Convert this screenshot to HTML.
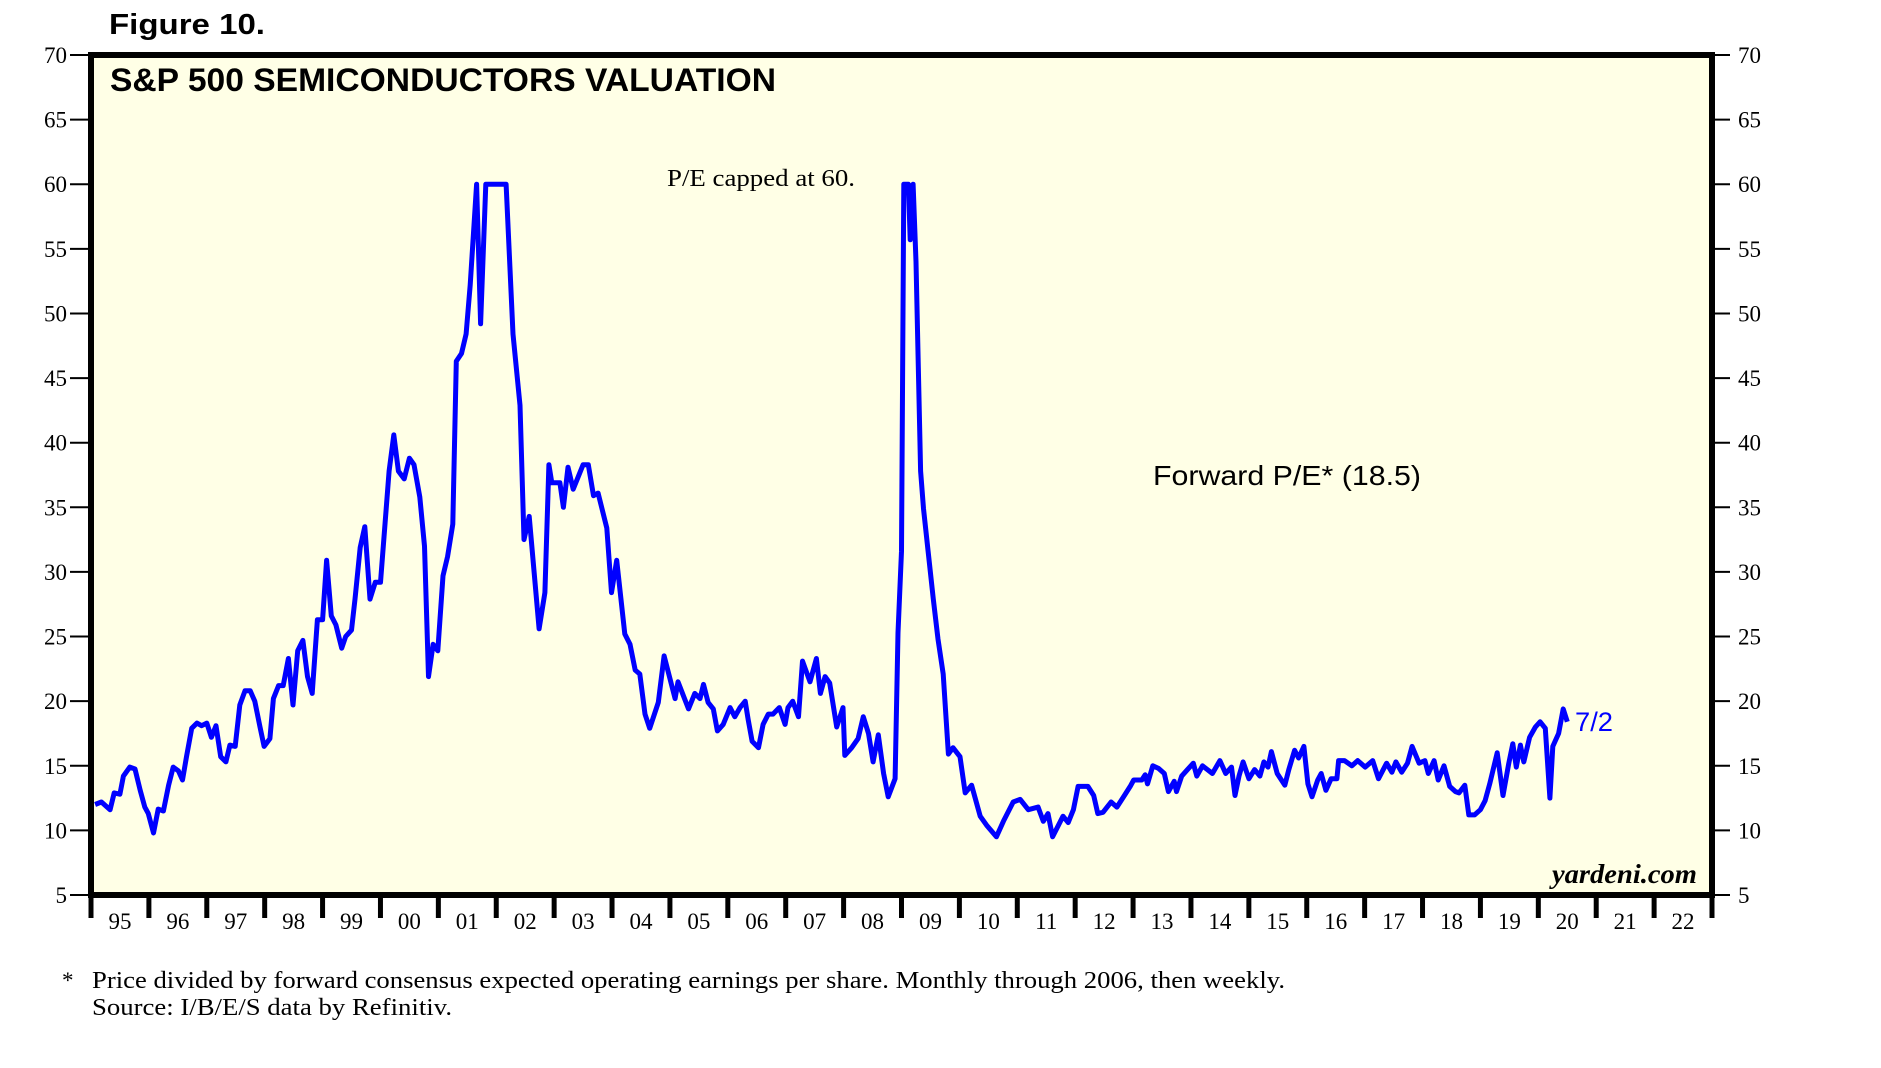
<!DOCTYPE html>
<html><head><meta charset="utf-8"><style>
html,body{margin:0;padding:0;background:#fff;}
svg{display:block;}
</style></head><body>
<svg id="chart" width="1881" height="1068" viewBox="0 0 1881 1068" xmlns="http://www.w3.org/2000/svg">
<text x="109" y="34" font-family="Liberation Sans, sans-serif" font-weight="bold" font-size="29" textLength="156" lengthAdjust="spacingAndGlyphs">Figure 10.</text>
<rect x="91" y="55" width="1621" height="840" fill="#FFFFE6" stroke="#000" stroke-width="6"/>
<g id="yaxes"></g>
<g id="xaxis"></g>
<g id="series"></g>
<rect x="91" y="55" width="1621" height="840" fill="none" stroke="#000" stroke-width="6"/>
<text x="110" y="91" font-family="Liberation Sans, sans-serif" font-weight="bold" font-size="32" textLength="666" lengthAdjust="spacingAndGlyphs">S&amp;P 500 SEMICONDUCTORS VALUATION</text>
<text x="667" y="186" font-family="Liberation Serif, serif" font-size="24" textLength="188" lengthAdjust="spacingAndGlyphs">P/E capped at 60.</text>
<text x="1153" y="485" font-family="Liberation Sans, sans-serif" font-size="28" textLength="268" lengthAdjust="spacingAndGlyphs">Forward P/E* (18.5)</text>
<text x="1575" y="731" font-family="Liberation Sans, sans-serif" font-size="27" fill="#0000FF" textLength="38" lengthAdjust="spacingAndGlyphs">7/2</text>
<text x="1552" y="883" font-family="Liberation Serif, serif" font-weight="bold" font-style="italic" font-size="27" textLength="145" lengthAdjust="spacingAndGlyphs">yardeni.com</text>
<text x="62" y="988" font-family="Liberation Serif, serif" font-size="23">*</text>
<text x="92" y="988" font-family="Liberation Serif, serif" font-size="24" textLength="1193" lengthAdjust="spacingAndGlyphs">Price divided by forward consensus expected operating earnings per share. Monthly through 2006, then weekly.</text>
<text x="92" y="1015" font-family="Liberation Serif, serif" font-size="24" textLength="360" lengthAdjust="spacingAndGlyphs">Source: I/B/E/S data by Refinitiv.</text>
</svg>
<script>
const yearLabels = ["95","96","97","98","99","00","01","02","03","04","05","06","07","08","09","10","11","12","13","14","15","16","17","18","19","20","21","22"];
const yTicks = [5,10,15,20,25,30,35,40,45,50,55,60,65,70];
const dates = [1995.07,1995.18,1995.33,1995.40,1995.50,1995.56,1995.67,1995.76,1995.85,1995.93,1995.99,1996.08,1996.16,1996.25,1996.34,1996.42,1996.51,1996.58,1996.65,1996.74,1996.83,1996.91,1997.00,1997.08,1997.16,1997.24,1997.33,1997.40,1997.49,1997.57,1997.66,1997.75,1997.83,1997.92,1997.99,1998.09,1998.15,1998.24,1998.32,1998.41,1998.49,1998.57,1998.66,1998.74,1998.82,1998.91,1999.00,1999.07,1999.15,1999.23,1999.33,1999.40,1999.50,1999.56,1999.65,1999.73,1999.82,1999.91,2000.00,2000.08,2000.15,2000.23,2000.31,2000.41,2000.50,2000.58,2000.68,2000.76,2000.83,2000.91,2000.99,2001.08,2001.16,2001.25,2001.31,2001.40,2001.48,2001.55,2001.66,2001.73,2001.82,2002.17,2002.29,2002.41,2002.48,2002.57,2002.74,2002.84,2002.91,2002.96,2003.10,2003.16,2003.24,2003.33,2003.50,2003.59,2003.68,2003.76,2003.91,2003.99,2004.08,2004.22,2004.31,2004.40,2004.48,2004.57,2004.65,2004.80,2004.90,2005.09,2005.14,2005.32,2005.43,2005.52,2005.58,2005.66,2005.75,2005.82,2005.92,2006.04,2006.12,2006.21,2006.30,2006.35,2006.42,2006.53,2006.61,2006.70,2006.78,2006.89,2006.99,2007.04,2007.12,2007.22,2007.29,2007.42,2007.53,2007.60,2007.68,2007.76,2007.88,2007.99,2008.02,2008.14,2008.25,2008.34,2008.43,2008.51,2008.60,2008.69,2008.77,2008.89,2008.94,2009.00,2009.04,2009.12,2009.15,2009.20,2009.25,2009.33,2009.38,2009.46,2009.55,2009.63,2009.72,2009.81,2009.89,2010.01,2010.10,2010.21,2010.36,2010.47,2010.64,2010.76,2010.93,2011.05,2011.19,2011.36,2011.45,2011.53,2011.61,2011.79,2011.88,2011.97,2012.05,2012.22,2012.32,2012.39,2012.48,2012.62,2012.72,2012.85,2012.95,2013.01,2013.15,2013.21,2013.25,2013.34,2013.44,2013.54,2013.61,2013.71,2013.75,2013.84,2013.94,2014.04,2014.10,2014.20,2014.37,2014.50,2014.60,2014.70,2014.76,2014.83,2014.90,2015.00,2015.10,2015.19,2015.26,2015.33,2015.39,2015.49,2015.62,2015.69,2015.79,2015.86,2015.95,2016.02,2016.09,2016.19,2016.25,2016.33,2016.42,2016.52,2016.55,2016.65,2016.78,2016.88,2017.01,2017.14,2017.24,2017.38,2017.47,2017.54,2017.64,2017.74,2017.82,2017.94,2018.04,2018.10,2018.20,2018.27,2018.37,2018.47,2018.57,2018.63,2018.73,2018.80,2018.90,2019.00,2019.08,2019.16,2019.29,2019.39,2019.49,2019.56,2019.62,2019.69,2019.75,2019.85,2019.95,2020.03,2020.12,2020.20,2020.25,2020.35,2020.43,2020.50];
const values = [12.0,12.2,11.6,12.9,12.8,14.2,14.9,14.75,13.1,11.8,11.3,9.8,11.65,11.5,13.5,14.9,14.6,13.9,15.7,17.9,18.3,18.1,18.3,17.2,18.1,15.7,15.3,16.6,16.5,19.7,20.8,20.8,20.0,18.0,16.5,17.1,20.2,21.2,21.2,23.3,19.7,23.9,24.7,21.9,20.6,26.3,26.3,30.9,26.6,25.9,24.1,25.0,25.5,27.9,31.9,33.5,27.9,29.2,29.2,33.8,37.8,40.6,37.8,37.2,38.8,38.3,35.8,32.0,21.9,24.4,23.9,29.7,31.2,33.7,46.3,46.9,48.4,52.2,60.0,49.2,60.0,60.0,48.4,42.9,32.5,34.3,25.6,28.4,38.3,36.9,36.9,35.0,38.1,36.4,38.3,38.3,35.9,36.1,33.4,28.4,30.9,25.2,24.4,22.4,22.1,19.0,17.9,19.9,23.5,20.2,21.5,19.4,20.6,20.2,21.3,19.9,19.4,17.7,18.2,19.5,18.8,19.5,20.0,18.6,16.9,16.4,18.2,19.0,19.0,19.5,18.2,19.5,20.0,18.8,23.1,21.5,23.3,20.6,21.9,21.4,18.0,19.5,15.8,16.4,17.1,18.8,17.5,15.3,17.4,14.4,12.6,14.0,25.3,31.6,60.0,60.0,55.7,60.0,54.0,37.8,34.9,31.6,27.9,24.8,22.1,15.9,16.4,15.7,12.9,13.5,11.1,10.4,9.5,10.7,12.2,12.4,11.6,11.8,10.7,11.3,9.5,11.1,10.6,11.6,13.4,13.4,12.7,11.3,11.4,12.2,11.8,12.7,13.4,13.9,13.9,14.3,13.6,15.0,14.8,14.4,13.0,13.8,13.0,14.2,14.7,15.2,14.2,15.0,14.4,15.4,14.4,14.9,12.7,14.2,15.3,14.0,14.7,14.2,15.3,14.9,16.1,14.4,13.5,14.7,16.2,15.6,16.5,13.6,12.6,13.9,14.4,13.1,14.0,14.0,15.4,15.4,15.0,15.4,14.9,15.4,14.0,15.2,14.5,15.3,14.5,15.2,16.5,15.2,15.4,14.4,15.4,13.9,15.0,13.4,13.0,12.9,13.5,11.2,11.2,11.6,12.3,13.6,16.0,12.7,15.2,16.7,14.9,16.6,15.3,17.2,18.0,18.4,17.9,12.5,16.5,17.5,19.4,18.4];

const NS = "http://www.w3.org/2000/svg";
const X0 = 91, X1 = 1712, Y0 = 55, Y1 = 895;
const yMin = 5, yMax = 70, startYear = 1995, nYears = 28;
function xs(yr){ return X0 + (yr - startYear) * (X1 - X0) / nYears; }
function ys(v){ return Y1 - (v - yMin) * (Y1 - Y0) / (yMax - yMin); }
function mk(tag, attrs){ const e = document.createElementNS(NS, tag); for (const k in attrs) e.setAttribute(k, attrs[k]); return e; }

const yg = document.getElementById('yaxes');
yTicks.forEach(t => {
  const y = ys(t);
  const l1 = mk('line', {x1:70, x2:X0, y1:y, y2:y, stroke:'#000', 'stroke-width':2});
  
  
  yg.appendChild(l1);
  const l2 = mk('line', {x1:X1, x2:1730, y1:y, y2:y, stroke:'#000', 'stroke-width':2});
  
  
  yg.appendChild(l2);
  const t1 = mk('text', {x:67, y:y+8, 'text-anchor':'end', 'font-family':'Liberation Serif, serif', 'font-size':23});
  t1.textContent = t;
  
  
  yg.appendChild(t1);
  const t2 = mk('text', {x:1738, y:y+8, 'font-family':'Liberation Serif, serif', 'font-size':23});
  t2.textContent = t;
  
  
  yg.appendChild(t2);
});

const xg = document.getElementById('xaxis');
for (let i = 0; i <= nYears; i++) {
  const x = xs(startYear + i);
  const tk = mk('line', {x1:x, x2:x, y1:Y1, y2:918, stroke:'#000', 'stroke-width':5});
  
  
  xg.appendChild(tk);
}
yearLabels.forEach((lab, i) => {
  const t = mk('text', {x:xs(startYear + i + 0.5), y:929, 'text-anchor':'middle', 'font-family':'Liberation Serif, serif', 'font-size':23});
  t.textContent = lab;
  
  
  xg.appendChild(t);
});

const pts = dates.map((d, i) => xs(d).toFixed(1) + ',' + ys(values[i]).toFixed(1)).join(' ');
const line = mk('polyline', {points:pts, fill:'none', stroke:'#0000FF', 'stroke-width':5, 'stroke-linejoin':'round'});


document.getElementById('series').appendChild(line);
</script>
</body></html>
